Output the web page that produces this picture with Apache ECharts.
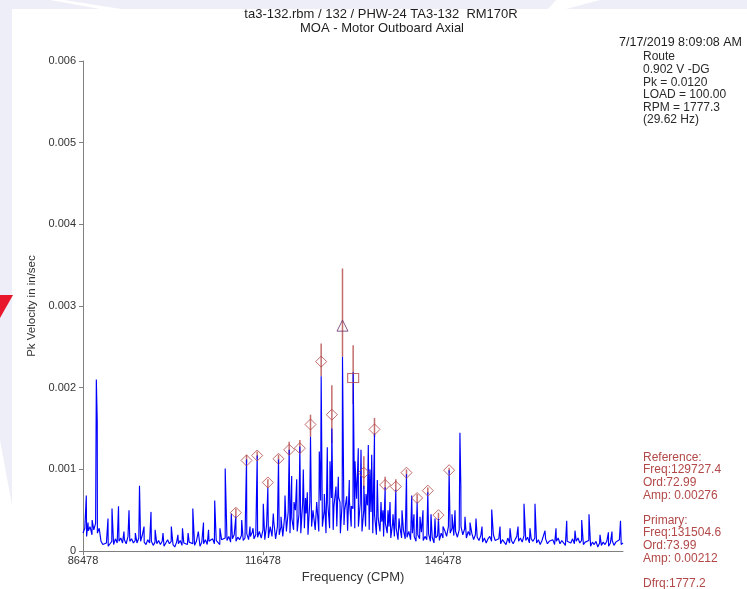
<!DOCTYPE html>
<html>
<head>
<meta charset="utf-8">
<title>MOA - Motor Outboard Axial</title>
<script src="https://cdn.jsdelivr.net/npm/echarts@6.0.0/dist/echarts.min.js"></script>
<style>
  html, body { margin: 0; padding: 0; background: #ffffff; }
  #chart { width: 747px; height: 589px; }
</style>
</head>
<body>
<div id="chart"></div>
<script>
// spectrum noise floor, one value every freqStep CPM from freqStart (in/sec)
const freqStart = 86478
const freqStep = 300
const floorAmp = [
  0.00022, 0.00028, 0.00018, 0.00025, 0.00030, 0.00020, 0.00026, 0.00034, 0.00022, 0.00028,
  0.00012, 0.00008, 0.00007, 0.00010, 0.00006, 0.00009, 0.00012, 0.00008, 0.00015, 0.00010,
  0.00012, 0.00016, 0.00010, 0.00014, 0.00009, 0.00018, 0.00012, 0.00015, 0.00010, 0.00013,
  0.00010, 0.00016, 0.00012, 0.00020, 0.00011, 0.00008, 0.00014, 0.00010, 0.00012, 0.00007,
  0.00011, 0.00009, 0.00013, 0.00008, 0.00012, 0.00006, 0.00010, 0.00014, 0.00009, 0.00012,
  0.00008, 0.00005, 0.00011, 0.00009, 0.00013, 0.00007, 0.00010, 0.00012, 0.00008, 0.00011,
  0.00013, 0.00009, 0.00007, 0.00012, 0.00010, 0.00006, 0.00011, 0.00009, 0.00014, 0.00008,
  0.00012, 0.00010, 0.00015, 0.00009, 0.00013, 0.00011, 0.00008, 0.00014, 0.00012, 0.00016,
  0.00013, 0.00018, 0.00011, 0.00015, 0.00020, 0.00012, 0.00017, 0.00014, 0.00019, 0.00013,
  0.00016, 0.00021, 0.00014, 0.00018, 0.00023, 0.00015, 0.00020, 0.00017, 0.00024, 0.00016,
  0.00026, 0.00014, 0.00032, 0.00016, 0.00030, 0.00018, 0.00036, 0.00015, 0.00030, 0.00020,
  0.00030, 0.00018, 0.00042, 0.00024, 0.00048, 0.00022, 0.00040, 0.00026, 0.00050, 0.00024,
  0.00045, 0.00022, 0.00058, 0.00028, 0.00046, 0.00020, 0.00060, 0.00030, 0.00052, 0.00026,
  0.00055, 0.00024, 0.00062, 0.00030, 0.00050, 0.00022, 0.00058, 0.00028, 0.00065, 0.00026,
  0.00054, 0.00030, 0.00066, 0.00022, 0.00060, 0.00032, 0.00048, 0.00025, 0.00062, 0.00030,
  0.00052, 0.00028, 0.00064, 0.00030, 0.00058, 0.00024, 0.00050, 0.00030, 0.00056, 0.00026,
  0.00048, 0.00022, 0.00044, 0.00020, 0.00040, 0.00024, 0.00036, 0.00018, 0.00034, 0.00022,
  0.00030, 0.00016, 0.00034, 0.00018, 0.00028, 0.00014, 0.00030, 0.00016, 0.00026, 0.00015,
  0.00017, 0.00024, 0.00014, 0.00022, 0.00018, 0.00012, 0.00020, 0.00015, 0.00023, 0.00013,
  0.00018, 0.00014, 0.00021, 0.00012, 0.00017, 0.00010, 0.00016, 0.00019, 0.00013, 0.00022,
  0.00016, 0.00025, 0.00018, 0.00030, 0.00022, 0.00028, 0.00019, 0.00024, 0.00017, 0.00026,
  0.00030, 0.00020, 0.00027, 0.00016, 0.00024, 0.00019, 0.00022, 0.00014, 0.00020, 0.00017,
  0.00013, 0.00019, 0.00011, 0.00016, 0.00010, 0.00015, 0.00018, 0.00012, 0.00020, 0.00013,
  0.00011, 0.00015, 0.00009, 0.00014, 0.00012, 0.00008, 0.00016, 0.00010, 0.00013, 0.00009,
  0.00014, 0.00018, 0.00012, 0.00016, 0.00011, 0.00019, 0.00013, 0.00017, 0.00010, 0.00015,
  0.00012, 0.00016, 0.00010, 0.00014, 0.00008, 0.00013, 0.00011, 0.00015, 0.00009, 0.00012,
  0.00010, 0.00014, 0.00008, 0.00012, 0.00016, 0.00009, 0.00013, 0.00011, 0.00007, 0.00012,
  0.00014, 0.00010, 0.00015, 0.00009, 0.00012, 0.00016, 0.00010, 0.00013, 0.00008, 0.00011,
  0.00009, 0.00013, 0.00006, 0.00011, 0.00008, 0.00012, 0.00005, 0.00010, 0.00007, 0.00011,
  0.00008, 0.00012, 0.00006, 0.00010, 0.00013, 0.00007, 0.00011, 0.00009, 0.00014, 0.00008,
  0.00010
]

// spectral lines (CPM, in/sec)
const peakFreq = [
  87028, 87311, 87650, 88000, 88700, 88850, 89450, 90645, 91311, 92395,
  93300, 94145, 95200, 95895, 96650, 97811, 98500, 99811, 101195, 102300,
  103061, 104000, 104778, 105700, 106561, 107400, 108428, 109300, 110178, 111195,
  111955, 112928, 113732, 114311, 114811, 115510, 116528, 117287, 118195, 119064,
  119478, 120145, 120841, 121261, 121645, 122095, 122619, 123195, 123561, 123861,
  124396, 124811, 125428, 125861, 126173, 126695, 127195, 127645, 127950, 128300,
  128645, 129028, 129311, 129727, 130100, 130428, 130861, 131200, 131505, 131811,
  132361, 132811, 133282, 133645, 134028, 134311, 134595, 135059, 135528, 136145,
  136478, 136836, 137311, 137645, 138145, 138613, 139145, 139645, 140391, 141261,
  141645, 142168, 142645, 143145, 143945, 144478, 145145, 145722, 146478, 147499,
  147978, 148478, 149300, 149450, 150145, 150978, 151978, 152978, 154595, 155978,
  157645, 158978, 159978, 160978, 161811, 163478, 165311, 167095, 168478, 169595,
  170811, 172645, 174045, 174645, 176061
]
const peakAmp = [
  0.00068, 0.00035, 0.00030, 0.00038, 0.00210, 0.00160, 0.00030, 0.00040, 0.00052, 0.00055,
  0.00024, 0.00050, 0.00022, 0.00080, 0.00030, 0.00048, 0.00026, 0.00022, 0.00030, 0.00020,
  0.00028, 0.00022, 0.00052, 0.00024, 0.00035, 0.00026, 0.00062, 0.00028, 0.00101, 0.00046,
  0.00043, 0.00038, 0.00112, 0.00030, 0.00028, 0.00117, 0.00058, 0.00078, 0.00046, 0.00112,
  0.00042, 0.00068, 0.00124, 0.00092, 0.00060, 0.00088, 0.00128, 0.00100, 0.00065, 0.00072,
  0.00140, 0.00050, 0.00060, 0.00122, 0.00214, 0.00070, 0.00127, 0.00110, 0.00150, 0.00055,
  0.00079, 0.00091, 0.00060, 0.00238, 0.00050, 0.00067, 0.00087, 0.00055, 0.00219, 0.00110,
  0.00126, 0.00124, 0.00080, 0.00070, 0.00130, 0.00100, 0.00118, 0.00144, 0.00087, 0.00060,
  0.00050, 0.00078, 0.00050, 0.00060, 0.00045, 0.00075, 0.00040, 0.00050, 0.00094, 0.00068,
  0.00045, 0.00060, 0.00042, 0.00050, 0.00072, 0.00045, 0.00040, 0.00040, 0.00030, 0.00099,
  0.00045, 0.00050, 0.00145, 0.00080, 0.00042, 0.00035, 0.00040, 0.00030, 0.00051, 0.00030,
  0.00028, 0.00030, 0.00058, 0.00028, 0.00058, 0.00025, 0.00028, 0.00037, 0.00025, 0.00038,
  0.00045, 0.00020, 0.00023, 0.00024, 0.00037
]

// sideband cursors (diamonds), reference (triangle) and primary (square)
const sidebandFreq = [
  111955.4, 113732.6, 115509.8, 117287.0, 119064.2, 120841.4, 122618.6, 124395.8, 126173.0, 127950.2,
  133281.8, 135059.0, 136836.2, 138613.4, 140390.6, 142167.8, 143945.0, 145722.2, 147499.4
]
const sidebandAmp = [
  0.00047, 0.00111, 0.00117, 0.00084, 0.00113, 0.00124, 0.00126, 0.00155, 0.00232, 0.00167,
  0.00096, 0.00149, 0.00081, 0.00079, 0.00096, 0.00065, 0.00074, 0.00044, 0.00099
]
// red cursor stems: bottom and top of each
const sidebandStemLow = [
  0.00043, 0.00108, 0.00113, 0.00078, 0.00108, 0.00118, 0.00120, 0.00140, 0.00214, 0.00132,
  0.00076, 0.00140, 0.00076, 0.00074, 0.00092, 0.00060, 0.00070, 0.00040, 0.00096
]
const sidebandStemTop = [
  0.00052, 0.00118, 0.00122, 0.00088, 0.00118, 0.00134, 0.00136, 0.00167, 0.00254, 0.00203,
  0.00116, 0.00163, 0.00091, 0.00088, 0.00100, 0.00070, 0.00078, 0.00047, 0.00102
]
const refFreq = 129727.4
const refAmp = 0.00276
const refStem = [0.00238, 0.00346]
const priFreq = 131504.6
const priAmp = 0.00212
const priStem = [0.00180, 0.00252]

const infoLines = ['Route', '0.902 V -DG', 'Pk = 0.0120', 'LOAD = 100.00', 'RPM = 1777.3', '(29.62 Hz)']
const cursorLines = ['Reference:', 'Freq:129727.4', 'Ord:72.99', 'Amp: 0.00276', '',
  'Primary:', 'Freq:131504.6', 'Ord:73.99', 'Amp: 0.00212', '', 'Dfrq:1777.2']
const xTicks = [86478, 116478, 146478]

const FONT = '"Liberation Sans", Arial, sans-serif'
const CURSOR_RED = '#b24848'

// merge floor and lines into one sorted trace
const spectrum = floorAmp.map((a, i) => [freqStart + i * freqStep, a])
peakFreq.forEach((f, i) => spectrum.push([f, peakAmp[i]]))
spectrum.sort((a, b) => a[0] - b[0])

const stems = sidebandFreq.map((f, i) => [f, sidebandStemLow[i], sidebandStemTop[i]])
stems.push([refFreq, refStem[0], refStem[1]], [priFreq, priStem[0], priStem[1]])

const chart = echarts.init(document.getElementById('chart'))

const textEl = (text, x, y, opts = {}) => ({
  type: 'text',
  x, y,
  silent: true,
  z: 10,
  style: {
    text,
    fill: opts.fill || '#1e1e1e',
    font: (opts.size || 12) + 'px ' + FONT,
    textAlign: opts.align || 'left',
    textVerticalAlign: 'middle'
  }
})

const graphics = [
  // page behind the chart image
  { type: 'polygon', silent: true, z: -10, shape: { points: [[0, 0], [747, 0], [747, 9], [0, 9]] }, style: { fill: '#eeeef8' } },
  { type: 'polygon', silent: true, z: -9, shape: { points: [[50, 0], [64, 0], [121, 9], [100, 9]] }, style: { fill: '#ffffff' } },
  { type: 'polygon', silent: true, z: -9, shape: { points: [[556, 0], [600, 0], [566, 9], [548, 9]] }, style: { fill: '#ffffff' } },
  { type: 'polygon', silent: true, z: -10, shape: { points: [[0, 0], [12, 0], [12, 505], [0, 440]] }, style: { fill: '#eeeef8' } },
  { type: 'polygon', silent: true, z: -8, shape: { points: [[0, 295], [13, 295], [0, 318]] }, style: { fill: '#e8172b' } },
  textEl('ta3-132.rbm / 132 / PHW-24 TA3-132  RM170R', 381, 14, { align: 'center', size: 13 }),
  textEl('MOA - Motor Outboard Axial', 382, 28.5, { align: 'center', size: 13 }),
  textEl('7/17/2019 8:09:08 AM', 619, 43, { size: 12.5 })
]
infoLines.forEach((t, i) => graphics.push(textEl(t, 643, 57 + i * 12.6, { fill: '#2a2a2a' })))
cursorLines.forEach((t, i) => {
  if (t) graphics.push(textEl(t, 643, 457.5 + i * 12.6, { fill: CURSOR_RED }))
})

const option = {
  backgroundColor: '#ffffff',
  animation: false,
  grid: { left: 83, right: 124, top: 61, bottom: 29 },
  xAxis: {
    type: 'value',
    min: 86478,
    max: 176478,
    interval: 30000,
    name: 'Frequency (CPM)',
    nameLocation: 'middle',
    nameGap: 16,
    nameTextStyle: { fontFamily: FONT, fontSize: 13, color: '#333' },
    axisLine: { lineStyle: { color: '#808080', width: 1 } },
    axisTick: { length: 4, lineStyle: { color: '#808080' }, customValues: xTicks },
    axisLabel: {
      fontFamily: FONT, fontSize: 11, color: '#333', margin: 4,
      customValues: xTicks,
      formatter: v => String(v)
    },
    splitLine: { show: false }
  },
  yAxis: {
    type: 'value',
    min: 0,
    max: 0.006,
    interval: 0.001,
    name: 'Pk Velocity in in/sec',
    nameLocation: 'middle',
    nameGap: 43,
    nameTextStyle: { fontFamily: FONT, fontSize: 11.5, color: '#333' },
    axisLine: { show: true, lineStyle: { color: '#808080', width: 1 } },
    axisTick: { show: true, length: 4, lineStyle: { color: '#808080' } },
    axisLabel: { fontFamily: FONT, fontSize: 11, color: '#333', margin: 7 },
    splitLine: { show: false }
  },
  graphic: graphics,
  series: [
    {
      name: 'cursor stems',
      type: 'custom',
      z: 1,
      silent: true,
      data: stems,
      renderItem: (params, api) => {
        const p0 = api.coord([api.value(0), api.value(1)])
        const p1 = api.coord([api.value(0), api.value(2)])
        return {
          type: 'line',
          shape: { x1: p0[0], y1: p0[1], x2: p1[0], y2: p1[1] },
          style: { stroke: '#b85252', lineWidth: 1.5, opacity: 0.85 }
        }
      }
    },
    {
      name: 'spectrum',
      type: 'line',
      z: 2,
      data: spectrum,
      showSymbol: false,
      symbol: 'none',
      sampling: false,
      lineStyle: { color: '#0000ff', width: 1.15 }
    },
    {
      name: 'sidebands',
      type: 'scatter',
      z: 3,
      symbol: 'diamond',
      symbolSize: [11, 11],
      data: sidebandFreq.map((f, i) => [f, sidebandAmp[i]]),
      itemStyle: { color: 'rgba(0,0,0,0)', borderColor: CURSOR_RED, borderWidth: 1 }
    },
    {
      name: 'reference',
      type: 'scatter',
      z: 3,
      symbol: 'triangle',
      symbolSize: [11, 11],
      data: [[refFreq, refAmp]],
      itemStyle: { color: 'rgba(0,0,0,0)', borderColor: '#6a2f6a', borderWidth: 1 }
    },
    {
      name: 'primary',
      type: 'scatter',
      z: 3,
      symbol: 'rect',
      symbolSize: [11, 9],
      data: [[priFreq, priAmp]],
      itemStyle: { color: 'rgba(0,0,0,0)', borderColor: CURSOR_RED, borderWidth: 1 }
    }
  ]
}

chart.setOption(option)
</script>
</body>
</html>
